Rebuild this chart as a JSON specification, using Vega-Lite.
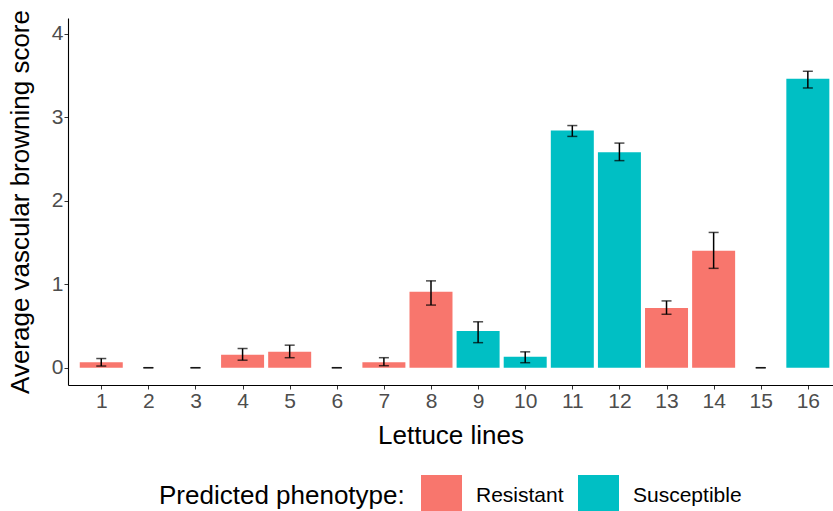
{
  "$schema": "https://vega.github.io/schema/vega-lite/v6.json",
  "autosize": "none",
  "width": 765,
  "height": 367,
  "padding": {"left": 68, "top": 18, "right": 0, "bottom": 126},
  "background": "white",
  "config": {
    "view": {"stroke": null},
    "font": "Liberation Sans",
    "axis": {
      "grid": false,
      "domainColor": "#000000",
      "domainWidth": 1.1,
      "tickColor": "#333333",
      "tickSize": 4,
      "labelColor": "#4D4D4D",
      "labelFontSize": 21,
      "labelFont": "Liberation Sans",
      "titleFont": "Liberation Sans",
      "titleFontSize": 26,
      "titleFontWeight": "normal",
      "titleColor": "#000000"
    }
  },
  "data": {
    "values": [
      {"line": 1, "score": 0.065, "lo": 0.02, "hi": 0.11, "phenotype": "Resistant"},
      {"line": 2, "score": 0, "lo": 0, "hi": 0, "phenotype": "Resistant"},
      {"line": 3, "score": 0, "lo": 0, "hi": 0, "phenotype": "Resistant"},
      {"line": 4, "score": 0.156, "lo": 0.09, "hi": 0.23, "phenotype": "Resistant"},
      {"line": 5, "score": 0.19, "lo": 0.12, "hi": 0.27, "phenotype": "Resistant"},
      {"line": 6, "score": 0, "lo": 0, "hi": 0, "phenotype": "Resistant"},
      {"line": 7, "score": 0.065, "lo": 0.024, "hi": 0.12, "phenotype": "Resistant"},
      {"line": 8, "score": 0.91, "lo": 0.75, "hi": 1.04, "phenotype": "Resistant"},
      {"line": 9, "score": 0.44, "lo": 0.3, "hi": 0.55, "phenotype": "Susceptible"},
      {"line": 10, "score": 0.13, "lo": 0.06, "hi": 0.19, "phenotype": "Susceptible"},
      {"line": 11, "score": 2.84, "lo": 2.77, "hi": 2.9, "phenotype": "Susceptible"},
      {"line": 12, "score": 2.58, "lo": 2.48, "hi": 2.69, "phenotype": "Susceptible"},
      {"line": 13, "score": 0.715, "lo": 0.64, "hi": 0.8, "phenotype": "Resistant"},
      {"line": 14, "score": 1.4, "lo": 1.19, "hi": 1.62, "phenotype": "Resistant"},
      {"line": 15, "score": 0, "lo": 0, "hi": 0, "phenotype": "Resistant"},
      {"line": 16, "score": 3.46, "lo": 3.35, "hi": 3.55, "phenotype": "Susceptible"}
    ]
  },
  "layer": [
    {
      "mark": {"type": "bar", "size": 43, "clip": true},
      "encoding": {
        "x": {
          "field": "line", "type": "quantitative", "title": "Lettuce lines",
          "scale": {"domain": [0.4, 16.428], "nice": false, "zero": false},
          "axis": {"values": [1,2,3,4,5,6,7,8,9,10,11,12,13,14,15,16], "format": "d", "titlePadding": 11, "labelPadding": 1}
        },
        "y": {
          "field": "score", "type": "quantitative", "title": "Average vascular browning score",
          "scale": {"domain": [-0.207, 4.188], "nice": false, "zero": false},
          "axis": {"values": [0,1,2,3,4], "format": "d", "titlePadding": 18, "labelPadding": 1}
        },
        "color": {
          "field": "phenotype", "type": "nominal",
          "scale": {"domain": ["Resistant", "Susceptible"], "range": ["#F8766D", "#00BFC4"]},
          "legend": {
            "title": "Predicted phenotype:",
            "orient": "none",
            "direction": "horizontal",
            "titleOrient": "left",
            "titleBaseline": "middle",
            "titleAnchor": "middle",
            "titleLimit": 400,
            "legendX": 91,
            "legendY": 457,
            "titleFontSize": 26,
            "titleFontWeight": "normal",
            "titleColor": "#000000",
            "titlePadding": 16,
            "labelFontSize": 21,
            "labelColor": "#000000",
            "labelOffset": 14,
            "labelLimit": 300,
            "symbolType": "square",
            "symbolSize": 1681,
            "symbolStrokeWidth": 0,
            "symbolOpacity": 1,
            "columnPadding": 14
          }
        }
      }
    },
    {
      "mark": {"type": "errorbar", "color": "#000000", "ticks": {"size": 10, "thickness": 1.5}, "rule": {"strokeWidth": 1.5}},
      "encoding": {
        "x": {"field": "line", "type": "quantitative", "title": "Lettuce lines"},
        "y": {"field": "lo", "type": "quantitative", "title": "Average vascular browning score"},
        "y2": {"field": "hi"}
      }
    }
  ]
}
